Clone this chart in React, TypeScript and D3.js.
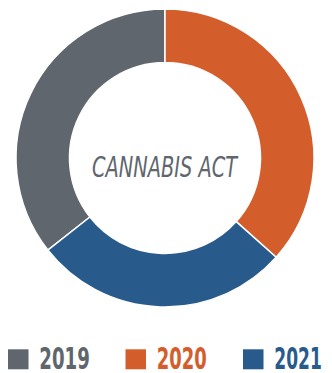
import React from "react";
import * as d3 from "d3";

const years = ["2019", "2020", "2021"];
const shares = [35.6, 36.6, 27.8];
const colors = ["#5f666d", "#d35e2c", "#285b8c"];
const centerLabel = "CANNABIS ACT";

const W = 332;
const H = 373;

export default function App() {
  const cx = 165;
  const cy = 158;
  const outerR = 149;
  const innerR = 95.5;
  const total = d3.sum(shares);
  const start = -(shares[0] / total) * 2 * Math.PI;
  const pie = d3
    .pie<number>()
    .sort(null)
    .value((d) => d)
    .startAngle(start)
    .endAngle(start + 2 * Math.PI);
  const arcs = pie(shares);
  const arc = d3.arc<d3.PieArcDatum<number>>().innerRadius(innerR).outerRadius(outerR);

  const legendX = d3.scalePoint<string>().domain(years).range([8, 243]);
  const textWidths = [50.5, 50, 47.5];

  return (
    <svg
      width={W}
      height={H}
      style={{ position: "absolute", left: 0, top: 0, background: "#fff" }}
    >
      <g transform={`translate(${cx},${cy})`}>
        {arcs.map((a, i) => (
          <path key={years[i]} d={arc(a) || ""} fill={colors[i]} stroke="#fff" strokeWidth={1.5} />
        ))}
        <text
          x={-0.5}
          y={18.5}
          textAnchor="middle"
          fontFamily="'Liberation Sans Narrow', 'DejaVu Sans Condensed', 'Roboto Condensed', sans-serif"
          fontStyle="italic"
          fontSize={27.5}
          fill="#5f666d"
          textLength={145}
          lengthAdjust="spacingAndGlyphs"
        >
          {centerLabel}
        </text>
      </g>
      {years.map((y, i) => {
        const x = legendX(y) as number;
        return (
          <g key={y}>
            <rect x={x} y={349.3} width={20.5} height={20} fill={colors[i]} />
            <text
              x={x + 31.3}
              y={369.3}
              fontFamily="'Liberation Sans Narrow', 'DejaVu Sans Condensed', sans-serif"
              fontWeight="bold"
              fontSize={30}
              fill={colors[i]}
              textLength={textWidths[i]}
              lengthAdjust="spacingAndGlyphs"
            >
              {y}
            </text>
          </g>
        );
      })}
    </svg>
  );
}
